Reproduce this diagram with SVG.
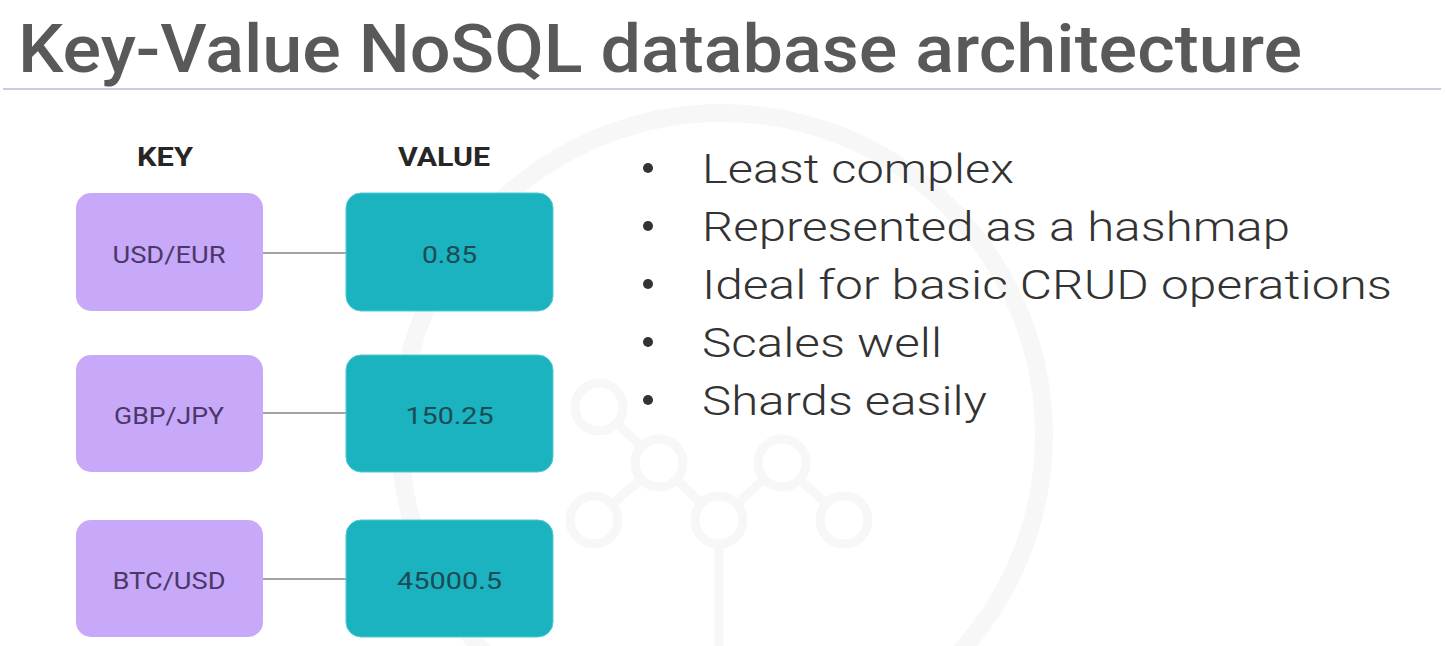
<svg xmlns="http://www.w3.org/2000/svg" width="1446" height="646" viewBox="0 0 1446 646">
<style>
.title{font-family:Roboto,"Liberation Sans",sans-serif;font-weight:500;font-size:67px;fill:#595959}
.hdr{font-family:Roboto,"Liberation Sans",sans-serif;font-weight:700;font-size:26px;fill:#262626;text-anchor:middle}
.key rect{fill:#c8a8f9}
.val rect{fill:#1bb3bf;stroke:#4fcbd4;stroke-width:1}
.key text{font-family:Roboto,"Liberation Sans",sans-serif;font-size:24px;fill:#4a3968;text-anchor:middle}
.val text{font-family:Roboto,"Liberation Sans",sans-serif;font-size:24px;fill:#1c4b56;text-anchor:middle}
.conn line{stroke:#a3a3a3;stroke-width:2}
.bul text{font-family:Roboto,"Liberation Sans",sans-serif;font-weight:300;font-size:41px;fill:#333}
.bul circle{fill:#333}
.wm{fill:none;stroke:#f7f7f8}
</style>
<rect width="1446" height="646" fill="#ffffff"/>
<g id="watermark" class="wm">
<circle cx="722" cy="435" r="322" stroke-width="18"/>
<g stroke-width="9">
<line x1="599" y1="407" x2="659" y2="463"/>
<line x1="659" y1="463" x2="594" y2="520"/>
<line x1="659" y1="463" x2="719" y2="520"/>
<line x1="782" y1="463" x2="719" y2="520"/>
<line x1="782" y1="463" x2="844" y2="520"/>
<line x1="719" y1="520" x2="719" y2="646"/>
<circle cx="599" cy="407" r="24" fill="#fff"/>
<circle cx="659" cy="463" r="24" fill="#fff"/>
<circle cx="782" cy="463" r="24" fill="#fff"/>
<circle cx="594" cy="520" r="24" fill="#fff"/>
<circle cx="719" cy="520" r="24" fill="#fff"/>
<circle cx="844" cy="520" r="24" fill="#fff"/>
</g>
</g>
<g id="title">
<text class="title" x="18" y="72" textLength="1284" lengthAdjust="spacingAndGlyphs">Key-Value NoSQL database architecture</text>
<line x1="3" y1="89" x2="1441" y2="89" stroke="#cdc8e6" stroke-width="2"/>
</g>
<g id="headers">
<text class="hdr" x="165" y="166" textLength="56" lengthAdjust="spacingAndGlyphs">KEY</text>
<text class="hdr" x="444" y="166" textLength="92" lengthAdjust="spacingAndGlyphs">VALUE</text>
</g>
<g id="connectors" class="conn">
<line x1="263" y1="253" x2="346" y2="253"/>
<line x1="263" y1="413" x2="346" y2="413"/>
<line x1="263" y1="579" x2="346" y2="579"/>
</g>
<g id="key1" class="key"><rect x="76" y="193" width="187" height="118" rx="15"/><text x="169" y="263" textLength="113" lengthAdjust="spacingAndGlyphs">USD/EUR</text></g>
<g id="key2" class="key"><rect x="76" y="355" width="187" height="117" rx="15"/><text x="169" y="424" textLength="110" lengthAdjust="spacingAndGlyphs">GBP/JPY</text></g>
<g id="key3" class="key"><rect x="76" y="520" width="187" height="117" rx="15"/><text x="169" y="589" textLength="113" lengthAdjust="spacingAndGlyphs">BTC/USD</text></g>
<g id="val1" class="val"><rect x="346" y="193" width="207" height="118" rx="15"/><text x="449.5" y="263" textLength="55" lengthAdjust="spacingAndGlyphs">0.85</text></g>
<g id="val2" class="val"><rect x="346" y="355" width="207" height="117" rx="15"/><text x="449.5" y="424" textLength="88" lengthAdjust="spacingAndGlyphs">150.25</text></g>
<g id="val3" class="val"><rect x="346" y="520" width="207" height="117" rx="15"/><text x="449.5" y="589" textLength="105" lengthAdjust="spacingAndGlyphs">45000.5</text></g>
<g id="bullets" class="bul">
<circle cx="648" cy="168" r="5"/><text x="702" y="183" textLength="312" lengthAdjust="spacingAndGlyphs">Least complex</text>
<circle cx="648" cy="226" r="5"/><text x="702" y="241" textLength="588" lengthAdjust="spacingAndGlyphs">Represented as a hashmap</text>
<circle cx="648" cy="284" r="5"/><text x="702" y="299" textLength="690" lengthAdjust="spacingAndGlyphs">Ideal for basic CRUD operations</text>
<circle cx="648" cy="342" r="5"/><text x="702" y="357" textLength="240" lengthAdjust="spacingAndGlyphs">Scales well</text>
<circle cx="648" cy="400" r="5"/><text x="702" y="415" textLength="285" lengthAdjust="spacingAndGlyphs">Shards easily</text>
</g>
</svg>
